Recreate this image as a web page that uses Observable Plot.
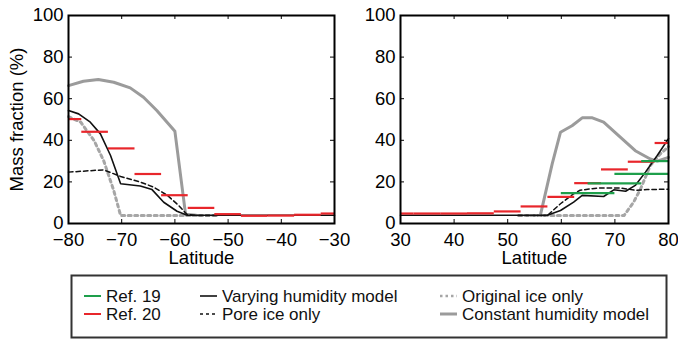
<!DOCTYPE html>
<html><head><meta charset="utf-8">
<script src="https://cdn.jsdelivr.net/npm/d3@7"></script>
<script src="https://cdn.jsdelivr.net/npm/@observablehq/plot@0.6"></script>
<style>
body{margin:0;background:#fff;}
#wrap{position:relative;width:678px;height:339px;overflow:hidden;background:#fff;font-family:"Liberation Sans",Arial,Helvetica,sans-serif;}
#left,#right,#legend{position:absolute;top:0;}
#left{left:0}
#right{left:339px}
#legend{left:0;top:268px}
</style></head><body>
<div id="wrap"><div id="left"></div><div id="right"></div><div id="legend"></div></div>
<script>
// ---- tick labels ----
const xTicksS = [-80, -70, -60, -50, -40, -30];
const xTicksN = [30, 40, 50, 60, 70, 80];
const yTicks = [0, 20, 40, 60, 80, 100];

// ---- southern hemisphere series [latitude, mass fraction %] ----
const constS = [[-80,66.3],[-77.2,68.4],[-74.4,69.2],[-71.5,67.9],[-68.4,65.2],[-65.9,60.7],[-63.4,54.3],[-60,44.3],[-58,4.5],[-56,4.0]];
const varyS = [[-80,54.3],[-78.1,52.7],[-75.9,48.7],[-74,43.1],[-72.1,32.7],[-70.2,19.1],[-66.5,18.0],[-64.3,16.3],[-62.1,10.2],[-59.6,5.9],[-57.7,4.0],[-30,4.0]];
const poreS = [[-80,24.7],[-73.4,25.8],[-70.2,22.6],[-66.5,19.9],[-64,17.5],[-61.4,13.5],[-59.3,8.7],[-57.7,4.3],[-56,3.9],[-52,3.9]];
const origS = [[-80,51.4],[-77.7,48.7],[-75.2,39.9],[-73.4,30.3],[-71.5,15.9],[-70.2,3.8],[-52,3.8]];
// Ref. 20 bins [from, to, value]
const ref20S = [[-80,-77.5,50.2],[-77.5,-72.5,44.1],[-72.5,-67.5,36.1],[-67.5,-62.5,23.8],[-62.5,-57.5,13.6],[-57.5,-52.5,7.5],[-52.5,-47.5,4.5],[-47.5,-42.5,3.7],[-42.5,-37.5,3.8],[-37.5,-32.5,4.2],[-32.5,-30,4.8]];
const ref19S = [];

// ---- northern hemisphere series ----
const constN = [[56.1,4.0],[58.3,28.7],[59.85,43.9],[62,47],[63.9,50.8],[65.8,50.8],[67.9,48.7],[71,41.5],[73.8,35],[76.6,31],[77.9,30],[80,31.8]];
const varyN = [[30,4.0],[57.4,4.0],[59.85,6.25],[62.3,10.3],[63.9,13.5],[67.9,13.0],[69.8,16.2],[72,15.5],[73.8,18.3],[75.7,24.7],[77.9,32.7],[80,40.8]];
const poreN = [[52,3.9],[57.4,3.9],[59.85,9.5],[62.3,14.3],[63.5,16],[66.6,17],[70.9,17.1],[73.8,16],[76,16.3],[80,16.5]];
const origN = [[52,3.8],[71.7,3.8],[73.5,10.3],[74.8,16.7],[76.6,27.9],[78.5,33.5],[80,37]];
const ref20N = [[30,32.5,4.8],[32.5,37.5,4.8],[37.5,42.5,4.8],[42.5,47.5,4.9],[47.5,52.5,5.8],[52.5,57.5,8.2],[57.5,62.5,12.8],[62.5,67.5,19.4],[67.5,72.5,26.0],[72.5,77.5,29.7],[77.5,80,38.7]];
const ref19N = [[60,70,14.6],[65,75,19.3],[70,80,23.9],[75,80,30.0]];

// ---- legend ----
const legendLabels = ["Ref. 19","Ref. 20","Varying humidity model","Pore ice only","Original ice only","Constant humidity model"];

const C = {red:"#e8262b", green:"#1e9f4b", gray:"#9b9b9b", dot:"#a6a6a6", black:"#111"};
const FONT = '"Liberation Sans", Arial, Helvetica, sans-serif';
const FS = 18.5;

function panel({domain, xticks, ml, mr, s, yLabel}) {
  const W = 339, H = 262, mt = 15, mb = 39;
  const fw = W - ml - mr, fh = H - mt - mb;
  const px = p => p[0], py = p => p[1];
  const marks = [
    Plot.line(s.cons, {x: px, y: py, stroke: C.gray, strokeWidth: 3}),
    Plot.line(s.orig, {x: px, y: py, stroke: C.dot, strokeWidth: 3, strokeDasharray: "3,3.5"}),
    Plot.line(s.pore, {x: px, y: py, stroke: C.black, strokeWidth: 1.5, strokeDasharray: "4.5,3"}),
    Plot.line(s.vary, {x: px, y: py, stroke: C.black, strokeWidth: 1.6}),
    Plot.ruleY(s.r20, {y: r => r[2], x1: r => r[0], x2: r => r[1], stroke: C.red, strokeWidth: 2.2}),
    Plot.ruleY(s.r19, {y: r => r[2], x1: r => r[0], x2: r => r[1], stroke: C.green, strokeWidth: 2.2}),
    Plot.tickX(xticks, {x: d => d, insetTop: fh - 4, stroke: "black", strokeWidth: 1}),
    Plot.tickX(xticks, {x: d => d, insetBottom: fh - 4, stroke: "black", strokeWidth: 1}),
    Plot.tickY(yTicks, {y: d => d, insetRight: fw - 4, stroke: "black", strokeWidth: 1}),
    Plot.tickY(yTicks, {y: d => d, insetLeft: fw - 4, stroke: "black", strokeWidth: 1}),
    Plot.frame({stroke: "black", strokeWidth: 2}),
    Plot.axisX({ticks: xticks, tickSize: 0, tickPadding: 9, label: null, fontSize: FS}),
    Plot.axisY({ticks: yTicks, tickSize: 0, tickPadding: 5, label: null, fontSize: FS}),
    Plot.text(["Latitude"], {text: d => d, frameAnchor: "bottom", lineAnchor: "middle", textAnchor: "middle", dy: 35, fontSize: FS})
  ];
  if (yLabel) marks.push(Plot.text([yLabel], {text: d => d, frameAnchor: "left", lineAnchor: "middle", textAnchor: "middle", dx: -51, rotate: -90, fontSize: FS}));
  return Plot.plot({
    width: W, height: H, marginLeft: ml, marginRight: mr, marginTop: mt, marginBottom: mb,
    x: {domain, ticks: xticks},
    y: {domain: [0, 100], ticks: yTicks},
    style: {fontFamily: FONT, fontSize: FS + "px", color: "black", background: "transparent", overflow: "visible"},
    marks
  });
}

document.getElementById("left").append(panel({
  domain: [-80, -30], xticks: xTicksS, ml: 68, mr: 5, yLabel: "Mass fraction (%)",
  s: {cons: constS, vary: varyS, pore: poreS, orig: origS, r20: ref20S, r19: ref19S}
}));
document.getElementById("right").append(panel({
  domain: [30, 80], xticks: xTicksN, ml: 61, mr: 10,
  s: {cons: constN, vary: varyN, pore: poreN, orig: origN, r20: ref20N, r19: ref19N}
}));

// legend
const off = 268;
const svg = d3.select("#legend").append("svg").attr("width", 678).attr("height", 71)
  .style("font-family", FONT);
svg.append("rect").attr("x", 71.5).attr("y", 275.5 - off).attr("width", 595).attr("height", 62)
  .attr("fill", "none").attr("stroke", "#333").attr("stroke-width", 2);
const legendStyle = [
  {stroke: C.green, w: 2, dash: null},
  {stroke: C.red, w: 2, dash: null},
  {stroke: C.black, w: 1.6, dash: null},
  {stroke: C.black, w: 1.6, dash: "3,3"},
  {stroke: C.dot, w: 2.5, dash: "2.5,3"},
  {stroke: C.gray, w: 3, dash: null}
];
const colX = [84, 200, 440], rowY = [296 - off, 314 - off];
legendLabels.forEach((lab, i) => {
  const col = Math.floor(i / 2), row = i % 2, st = legendStyle[i];
  const x = colX[col], y = rowY[row];
  const ln = svg.append("line").attr("x1", x).attr("x2", x + 17).attr("y1", y).attr("y2", y)
    .attr("stroke", st.stroke).attr("stroke-width", st.w);
  if (st.dash) ln.attr("stroke-dasharray", st.dash);
  svg.append("text").attr("x", x + 22).attr("y", y).attr("dy", "0.36em")
    .attr("font-size", 17).attr("fill", "#111").text(lab);
});
</script>
</body></html>
